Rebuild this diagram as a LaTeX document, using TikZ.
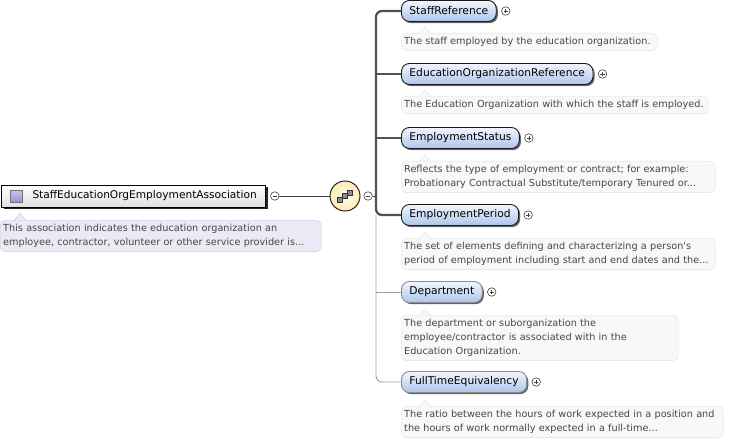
\documentclass[tikz,border=0pt]{standalone}
\usepackage{fontspec}
\setmainfont{DejaVu Sans}
\usetikzlibrary{positioning,shadows,calc}
\definecolor{elemhaut}{HTML}{F2F6FD}
\definecolor{elembas}{HTML}{ADC5EC}
\definecolor{notefond}{HTML}{F8F8F8}
\definecolor{notebord}{HTML}{E0E0E0}
\definecolor{rootfond}{HTML}{ECE8F5}
\definecolor{rootbord}{HTML}{CDC5DF}
\definecolor{violethaut}{HTML}{CFC2F0}
\definecolor{violetbas}{HTML}{9E8ED6}
\tikzset{
	elem/.style={draw=black!90, line width=0.9pt, rounded corners=8pt, top color=elemhaut, bottom color=elembas, drop shadow={shadow xshift=1.6pt, shadow yshift=-1.6pt, fill=black!60, opacity=1}, minimum height=21pt, inner xsep=8pt, inner ysep=0pt, anchor=west, font=\fontsize{10.7}{12}\selectfont},
	note/.style={draw=notebord, fill=notefond, rounded corners=5pt, anchor=north west, align=left, inner xsep=3pt, inner ysep=4pt, text=black!72, font=\fontsize{9.7}{14}\selectfont},
	bouton/.style={circle, draw=black!75, fill=white, line width=0.6pt, minimum size=8.5pt, inner sep=0pt},
	plus/.style={bouton, path picture={\draw[line width=0.6pt] ([xshift=-2.2pt]path picture bounding box.center) -- ([xshift=2.2pt]path picture bounding box.center) ([yshift=-2.2pt]path picture bounding box.center) -- ([yshift=2.2pt]path picture bounding box.center);}},
	moins/.style={bouton, path picture={\draw[line width=0.6pt] ([xshift=-2.2pt]path picture bounding box.center) -- ([xshift=2.2pt]path picture bounding box.center);}},
	lien/.style={black!75, line width=0.9pt},
	oblig/.style={black!68, line width=2.3pt, rounded corners=6pt},
	facult/.style={black!38, line width=0.9pt, rounded corners=6pt}
}
\begin{document}
\begin{tikzpicture}[x=1pt,y=-1pt]
	\def\xel{401};
	\def\xspine{376};
\useasboundingbox (0,0) rectangle (731,441);

%Racine
\node[draw=black, line width=1pt, top color=white, bottom color=black!12, drop shadow={shadow xshift=2pt, shadow yshift=-2pt, fill=black!85, opacity=1}, minimum height=22pt, inner xsep=9pt, inner ysep=0pt, anchor=west, font=\fontsize{10.6}{12}\selectfont] (root) at (1,196) {\hspace*{22pt}StaffEducationOrgEmploymentAssociation};
\filldraw[top color=violethaut, bottom color=violetbas, draw=black!55, line width=0.6pt] ($(root.west)+(9,-6)$) rectangle ++(12,12);
\node[moins, right=4pt of root] (rmoins) {};

\node[note, draw=rootbord, fill=rootfond, text width=315pt] (rnote) at (0,220) {This association indicates the education organization an\\employee, contractor, volunteer or other service provider is...};
\filldraw[fill=rootfond, draw=rootbord, line width=0.4pt] ($(rnote.north west)+(14,0.6)$) -- ++(6,-7.6) -- ++(6,7.6);

%Sequence
\node[circle, draw=black!85, line width=1pt, inner color=yellow!8, outer color=yellow!45!orange!30, minimum size=30pt, inner sep=0pt] (seq) at (345,196) {};
\draw[black!70, line width=0.7pt] ($(seq)+(-6,4)$) -- ($(seq)+(7,-4)$);
\foreach \d in {-5,0,5} {
	\filldraw[fill=black!45, draw=black!80, line width=0.5pt] ($(seq)+(\d,-0.7*\d)+(-2.5,-2.5)$) rectangle ++(5,5);
}
\node[moins, right=3pt of seq] (smoins) {};
\coordinate (spine) at (\xspine,196);

\draw[lien] (rmoins) -- (seq);
\draw[lien] (smoins) -- (spine);

%Elements
\foreach \nom/\y/\bord/\lbl in {staffref/11/black!90/StaffReference, eduref/74/black!90/EducationOrganizationReference, status/138/black!90/EmploymentStatus, period/215/black!90/EmploymentPeriod, dept/292/black!45/Department, fte/382/black!45/FullTimeEquivalency} {
	\node[elem, draw=\bord] (\nom) at (\xel,\y) {\lbl};
	\node[plus, right=4.5pt of \nom] (p\nom) {};
}

%Commentaires
\foreach \nom/\y/\w/\txt in {cstaffref/33/250/{The staff employed by the education organization.}, ceduref/96/301/{The Education Organization with which the staff is employed.}, cstatus/161/308/{Reflects the type of employment or contract; for example:\\Probationary Contractual Substitute/temporary Tenured or...}, cperiod/238/308/{The set of elements defining and characterizing a person\textquotesingle s\\period of employment including start and end dates and the...}, cdept/315/271/{The department or suborganization the\\employee/contractor is associated with in the\\Education Organization.}, cfte/406/316/{The ratio between the hours of work expected in a position and\\the hours of work normally expected in a full-time...}} {
	\node[note, text width=\w pt] (\nom) at (\xel,\y) {\txt};
	\filldraw[fill=notefond, draw=notebord, line width=0.4pt] ($(\nom.north west)+(18,0.6)$) -- ++(6,-6.6) -- ++(6,6.6);
}

%Liens
\draw[oblig] (staffref.west) -| (spine) |- (period.west);
\draw[oblig] (spine |- eduref.west) -- (eduref.west);
\draw[oblig] (spine |- status.west) -- (status.west);
\draw[facult] (spine |- period.west) |- (fte.west);
\draw[facult] (spine |- dept.west) -- (dept.west);

\end{tikzpicture}
\end{document}
